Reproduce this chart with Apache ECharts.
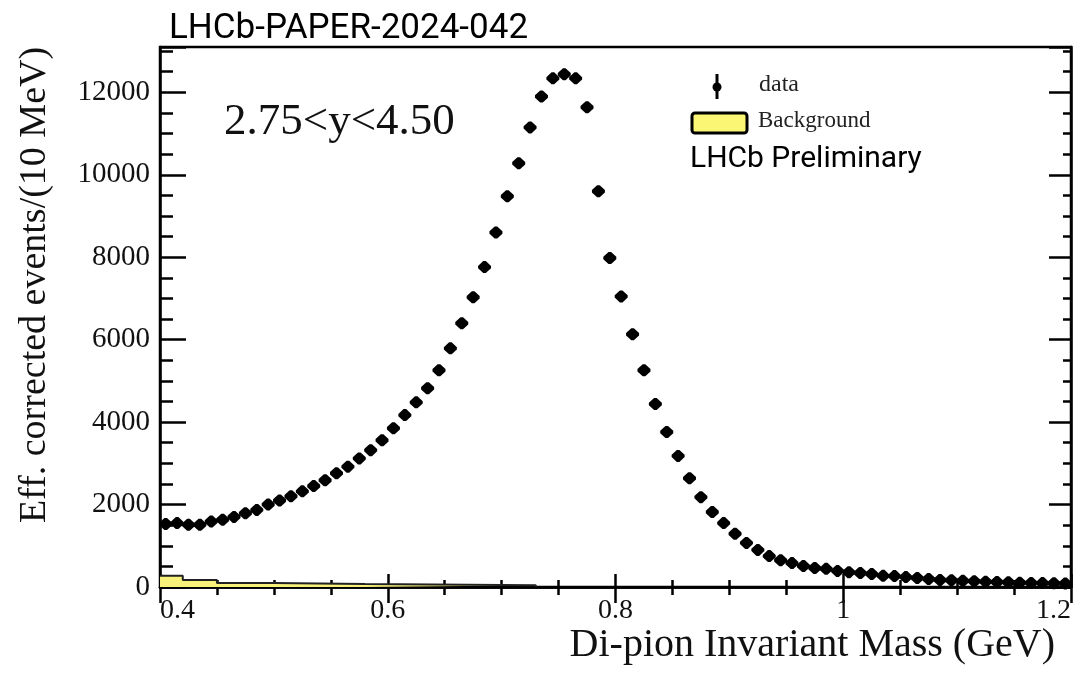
<!DOCTYPE html>
<html>
<head>
<meta charset="utf-8">
<script src="https://cdn.jsdelivr.net/npm/echarts@6/dist/echarts.min.js"></script>
<style>
  html, body { margin: 0; padding: 0; background: #fff; }
  #main { width: 1077px; height: 674px; }
</style>
</head>
<body>
<div id="main"></div>
<script>
var chartDom = document.getElementById('main');
var myChart = echarts.init(chartDom);
var option;

// di-pion mass bin centres (GeV), 10 MeV bins
let mass = [
  0.405, 0.415, 0.425, 0.435, 0.445, 0.455, 0.465, 0.475, 0.485, 0.495,
  0.505, 0.515, 0.525, 0.535, 0.545, 0.555, 0.565, 0.575, 0.585, 0.595,
  0.605, 0.615, 0.625, 0.635, 0.645, 0.655, 0.665, 0.675, 0.685, 0.695,
  0.705, 0.715, 0.725, 0.735, 0.745, 0.755, 0.765, 0.775, 0.785, 0.795,
  0.805, 0.815, 0.825, 0.835, 0.845, 0.855, 0.865, 0.875, 0.885, 0.895,
  0.905, 0.915, 0.925, 0.935, 0.945, 0.955, 0.965, 0.975, 0.985, 0.995,
  1.005, 1.015, 1.025, 1.035, 1.045, 1.055, 1.065, 1.075, 1.085, 1.095,
  1.105, 1.115, 1.125, 1.135, 1.145, 1.155, 1.165, 1.175, 1.185, 1.195
];
// efficiency corrected events per bin
let events = [
  1530, 1550, 1510, 1510, 1590, 1630, 1700, 1790, 1870, 2000,
  2100, 2200, 2320, 2450, 2590, 2760, 2920, 3120, 3320, 3560,
  3850, 4170, 4480, 4820, 5260, 5790, 6400, 7030, 7760, 8600,
  9480, 10280, 11150, 11900, 12340, 12440, 12340, 11640, 9600, 7980,
  7050, 6130, 5260, 4440, 3760, 3180, 2640, 2180, 1820, 1550,
  1290, 1070, 900, 750, 650, 580, 510, 460, 440, 390,
  360, 340, 315, 270, 265, 240, 220, 195, 170, 165,
  150, 140, 130, 120, 115, 105, 100, 95, 90, 85
];
// background histogram (variable bin edges, GeV)
let bkgEdges = [0.4, 0.42, 0.45, 0.5, 0.58, 0.73];
let bkgValues = [270, 170, 100, 70, 40];

let dataPoints = mass.map((m, i) => [m, events[i]]);
let bkgPoints = bkgEdges.map((e, i) => [e, i < bkgValues.length ? bkgValues[i] : 0]);

const serif = '"Liberation Serif", "DejaVu Serif", serif';
const sans = 'Roboto, "Liberation Sans", sans-serif';

option = {
  animation: false,
  backgroundColor: '#fff',
  title: {
    text: 'LHCb-PAPER-2024-042',
    left: 164,
    top: 7,
    textStyle: { fontFamily: sans, fontSize: 35, fontWeight: 'normal', color: '#000' }
  },
  grid: {
    left: 160, right: 6, top: 47, bottom: 87,
    outerBoundsMode: 'none',
    containLabel: false,
    show: true, borderColor: '#000', borderWidth: 2.5
  },
  xAxis: [
    {
      type: 'value', min: 0.4, max: 1.2, interval: 0.2,
      name: 'Di-pion Invariant Mass (GeV)',
      nameLocation: 'end',
      nameGap: -16,
      nameMoveOverlap: false,
      nameTextStyle: {
        fontFamily: serif, fontSize: 40, color: '#111',
        align: 'right', verticalAlign: 'top', padding: [38, 0, 0, 0]
      },
      axisLine: { lineStyle: { color: '#000', width: 2.5 } },
      axisTick: { inside: true, length: 13, lineStyle: { color: '#000', width: 2.5 } },
      minorTick: { show: true, splitNumber: 4, length: 7, lineStyle: { color: '#000', width: 2.5 } },
      axisLabel: {
        fontFamily: serif, fontSize: 28, color: '#111', margin: 10,
        alignMinLabel: 'left', alignMaxLabel: 'right',
        formatter: function (v) { return String(v); }
      },
      splitLine: { show: false }
    },
    {
      type: 'value', min: 0.4, max: 1.2, interval: 0.2, position: 'top',
      axisLine: { lineStyle: { color: '#000', width: 2.5 } },
      axisTick: { inside: true, length: 16, lineStyle: { color: '#000', width: 2.5 } },
      minorTick: { show: true, splitNumber: 4, length: 8, lineStyle: { color: '#000', width: 2.5 } },
      axisLabel: { show: false },
      splitLine: { show: false }
    }
  ],
  yAxis: [
    {
      type: 'value', min: 0, max: 13100, interval: 2000,
      name: 'Eff. corrected events/(10 MeV)',
      nameLocation: 'middle',
      nameGap: 106,
      nameTextStyle: { fontFamily: serif, fontSize: 38, color: '#111', padding: [0, 0, 0, 64] },
      axisLine: { lineStyle: { color: '#000', width: 2.5 } },
      axisTick: { inside: true, length: 26, lineStyle: { color: '#000', width: 2.5 } },
      minorTick: { show: true, splitNumber: 4, length: 13, lineStyle: { color: '#000', width: 2.5 } },
      axisLabel: {
        fontFamily: serif, fontSize: 29, color: '#111', margin: 10, showMaxLabel: false,
        formatter: function (v) { return String(v); }
      },
      splitLine: { show: false }
    },
    {
      type: 'value', min: 0, max: 13100, interval: 2000, position: 'right',
      axisLine: { lineStyle: { color: '#000', width: 2.5 } },
      axisTick: { inside: true, length: 22, lineStyle: { color: '#000', width: 2.5 } },
      minorTick: { show: true, splitNumber: 4, length: 8, lineStyle: { color: '#000', width: 2.5 } },
      axisLabel: { show: false },
      splitLine: { show: false }
    }
  ],
  graphic: [
    { type: 'text', left: 224, top: 100,
      style: { text: '2.75<y<4.50', fontFamily: serif, fontSize: 45, fill: '#111' } },
    // legend: data
    { type: 'line', shape: { x1: 717, y1: 74, x2: 717, y2: 99 }, style: { stroke: '#000', lineWidth: 3 } },
    { type: 'circle', shape: { cx: 717, cy: 87, r: 4.5 }, style: { fill: '#000' } },
    { type: 'text', left: 759, top: 73,
      style: { text: 'data', fontFamily: serif, fontSize: 24, fill: '#222' } },
    // legend: background
    { type: 'rect', shape: { x: 692, y: 113, width: 55, height: 20, r: 3 },
      style: { fill: '#fbf774', stroke: '#000', lineWidth: 3 } },
    { type: 'text', left: 758, top: 109,
      style: { text: 'Background', fontFamily: serif, fontSize: 23, fill: '#222' } },
    { type: 'text', left: 690, top: 144,
      style: { text: 'LHCb Preliminary', fontFamily: sans, fontSize: 30, fill: '#000' } }
  ],
  series: [
    {
      name: 'Background',
      type: 'line',
      step: 'end',
      data: bkgPoints,
      symbol: 'none',
      lineStyle: { color: '#222', width: 2 },
      areaStyle: { color: '#f8f27a', opacity: 1 },
      z: 2
    },
    {
      name: 'data',
      type: 'scatter',
      data: dataPoints,
      symbol: 'path://M4,0 L6,0 L10,4 L10,6 L6,10 L4,10 L0,6 L0,4 Z',
      symbolSize: [13, 12],
      itemStyle: { color: '#000', opacity: 1 },
      z: 3
    }
  ]
};

option && myChart.setOption(option);
</script>
</body>
</html>
